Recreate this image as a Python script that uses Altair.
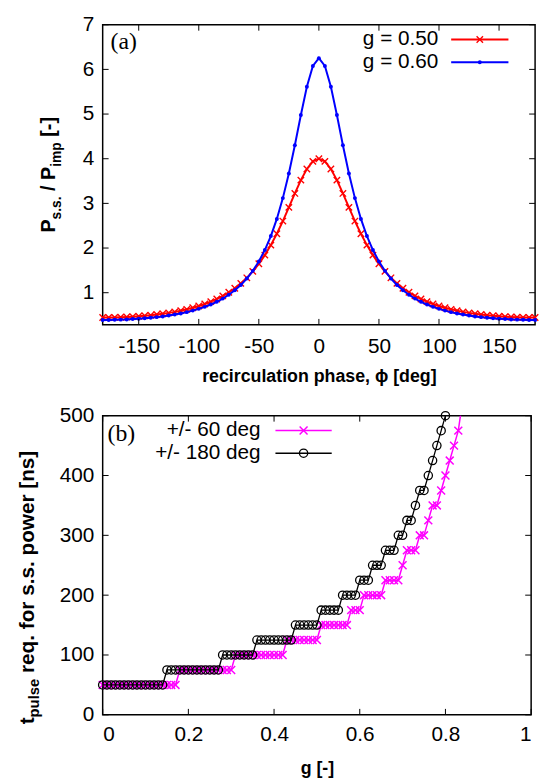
import altair as alt
import pandas as pd

# ---------------- data: panel (a) ----------------
phase = [-180, -175, -170, -165, -160, -155, -150, -145, -140, -135, -130, -125,
         -120, -115, -110, -105, -100, -95, -90, -85, -80, -75, -70, -65,
         -60, -55, -50, -45, -40, -35, -30, -25, -20, -15, -10, -5, 0,
         5, 10, 15, 20, 25, 30, 35, 40, 45, 50, 55, 60,
         65, 70, 75, 80, 85, 90, 95, 100, 105, 110, 115, 120,
         125, 130, 135, 140, 145, 150, 155, 160, 165, 170, 175, 180]

p_g050 = [0.444, 0.445, 0.447, 0.451, 0.457, 0.464, 0.473, 0.483, 0.496, 0.511, 0.528, 0.548,
          0.571, 0.598, 0.628, 0.663, 0.702, 0.748, 0.800, 0.860, 0.929, 1.009, 1.101, 1.209,
          1.333, 1.478, 1.647, 1.842, 2.066, 2.321, 2.604, 2.910, 3.223, 3.520, 3.771, 3.940, 4.000,
          3.940, 3.771, 3.520, 3.223, 2.910, 2.604, 2.321, 2.066, 1.842, 1.647, 1.478, 1.333,
          1.209, 1.101, 1.009, 0.929, 0.860, 0.800, 0.748, 0.702, 0.663, 0.628, 0.598, 0.571,
          0.548, 0.528, 0.511, 0.496, 0.483, 0.473, 0.464, 0.457, 0.451, 0.447, 0.445, 0.444]

p_g060 = [0.391, 0.391, 0.393, 0.397, 0.402, 0.409, 0.417, 0.427, 0.439, 0.453, 0.469, 0.488,
          0.510, 0.536, 0.565, 0.599, 0.638, 0.683, 0.735, 0.797, 0.868, 0.953, 1.053, 1.173,
          1.316, 1.489, 1.699, 1.955, 2.269, 2.652, 3.118, 3.671, 4.303, 4.978, 5.611, 6.076, 6.250,
          6.076, 5.611, 4.978, 4.303, 3.671, 3.118, 2.652, 2.269, 1.955, 1.699, 1.489, 1.316,
          1.173, 1.053, 0.953, 0.868, 0.797, 0.735, 0.683, 0.638, 0.599, 0.565, 0.536, 0.510,
          0.488, 0.469, 0.453, 0.439, 0.427, 0.417, 0.409, 0.402, 0.397, 0.393, 0.391, 0.391]

# ---------------- data: panel (b) ----------------
g_180 = [0.00, 0.01, 0.02, 0.03, 0.04, 0.05, 0.06, 0.07, 0.08, 0.09,
         0.10, 0.11, 0.12, 0.13, 0.14, 0.15, 0.16, 0.17, 0.18, 0.19,
         0.20, 0.21, 0.22, 0.23, 0.24, 0.25, 0.26, 0.27, 0.28, 0.29,
         0.30, 0.31, 0.32, 0.33, 0.34, 0.35, 0.36, 0.37, 0.38, 0.39,
         0.40, 0.41, 0.42, 0.43, 0.44, 0.45, 0.46, 0.47, 0.48, 0.49,
         0.50, 0.51, 0.52, 0.53, 0.54, 0.55, 0.56, 0.57, 0.58, 0.59,
         0.60, 0.61, 0.62, 0.63, 0.64, 0.65, 0.66, 0.67, 0.68, 0.69,
         0.70, 0.71, 0.72, 0.73, 0.74, 0.75, 0.76, 0.77, 0.78, 0.79,
         0.80]
t_180 = [50, 50, 50, 50, 50, 50, 50, 50, 50, 50,
         50, 50, 50, 50, 50, 75, 75, 75, 75, 75,
         75, 75, 75, 75, 75, 75, 75, 75, 100, 100,
         100, 100, 100, 100, 100, 100, 125, 125, 125, 125,
         125, 125, 125, 125, 125, 150, 150, 150, 150, 150,
         150, 175, 175, 175, 175, 175, 200, 200, 200, 200,
         225, 225, 225, 250, 250, 250, 275, 275, 275, 300,
         300, 325, 325, 350, 375, 375, 400, 425, 450, 475,
         500]

g_60 = [0.00, 0.01, 0.02, 0.03, 0.04, 0.05, 0.06, 0.07, 0.08, 0.09,
        0.10, 0.11, 0.12, 0.13, 0.14, 0.15, 0.16, 0.17, 0.18, 0.19,
        0.20, 0.21, 0.22, 0.23, 0.24, 0.25, 0.26, 0.27, 0.28, 0.29,
        0.30, 0.31, 0.32, 0.33, 0.34, 0.35, 0.36, 0.37, 0.38, 0.39,
        0.40, 0.41, 0.42, 0.43, 0.44, 0.45, 0.46, 0.47, 0.48, 0.49,
        0.50, 0.51, 0.52, 0.53, 0.54, 0.55, 0.56, 0.57, 0.58, 0.59,
        0.60, 0.61, 0.62, 0.63, 0.64, 0.65, 0.66, 0.67, 0.68, 0.69,
        0.70, 0.71, 0.72, 0.73, 0.74, 0.75, 0.76, 0.77, 0.78, 0.79,
        0.80, 0.81, 0.82, 0.83, 0.84]
t_60 = [50, 50, 50, 50, 50, 50, 50, 50, 50, 50,
        50, 50, 50, 50, 50, 50, 50, 50, 75, 75,
        75, 75, 75, 75, 75, 75, 75, 75, 75, 75,
        75, 100, 100, 100, 100, 100, 100, 100, 100, 100,
        100, 100, 100, 125, 125, 125, 125, 125, 125, 125,
        125, 150, 150, 150, 150, 150, 150, 150, 175, 175,
        175, 200, 200, 200, 200, 200, 225, 225, 225, 225,
        250, 275, 275, 275, 300, 300, 325, 350, 350, 375,
        400, 425, 450, 475, 525]

top_x_ticks = [-150, -100, -50, 0, 50, 100, 150]
top_y_ticks = [1, 2, 3, 4, 5, 6, 7]
bot_x_ticks = [0, 0.2, 0.4, 0.6, 0.8, 1.0]
bot_y_ticks = [0, 100, 200, 300, 400, 500]

legend_top = ["g = 0.50", "g = 0.60"]
legend_bot = ["+/- 60 deg", "+/- 180 deg"]

# ---------------- styling ----------------
FONT = "Liberation Sans"
XPATH = "M-1,-1L1,1M-1,1L1,-1"
RED, BLUE, PINK, BLACK = "#ff0000", "#0000ff", "#ff00ff", "#000000"
W1, H1 = 438, 304
W2, H2 = 434, 303
TICK = 6

# Arial/Liberation Sans Bold advance widths (em) for composing sub-scripted titles
CW = {' ': .278, '.': .278, '/': .278, '[': .333, ']': .333, '-': .333, 'P': .667,
      's': .556, 'i': .278, 'm': .889, 'p': .611, 't': .333, 'u': .611, 'l': .278,
      'e': .556, 'r': .389, 'q': .611, 'f': .333, 'o': .611, 'w': .778, 'n': .611}


def one():
    return pd.DataFrame({"k": [0]})


def composed_title(pieces, x, center_y):
    total = sum(sum(CW[c] for c in txt) * fs for txt, fs, _ in pieces)
    y0 = center_y + total / 2
    layers = []
    off = 0.0
    for txt, fs, sub in pieces:
        lead = len(txt) - len(txt.lstrip(" "))
        off += lead * CW[' '] * fs
        body = txt.lstrip(" ")
        layers.append(
            alt.Chart(one()).mark_text(
                angle=270, align="left", baseline="alphabetic", font=FONT,
                fontWeight="bold", fontSize=fs, dx=off, dy=sub, color="black"
            ).encode(x=alt.value(x), y=alt.value(y0), text=alt.value(body))
        )
        off += sum(CW[c] for c in body) * fs
    return layers


def inward_ticks(xdf, xenc, ydf, yenc, W, H):
    return [
        alt.Chart(xdf).mark_rule(color="black", strokeWidth=1).encode(x=xenc, y=alt.value(H), y2=alt.value(H - TICK)),
        alt.Chart(xdf).mark_rule(color="black", strokeWidth=1).encode(x=xenc, y=alt.value(0), y2=alt.value(TICK)),
        alt.Chart(ydf).mark_rule(color="black", strokeWidth=1).encode(y=yenc, x=alt.value(0), x2=alt.value(TICK)),
        alt.Chart(ydf).mark_rule(color="black", strokeWidth=1).encode(y=yenc, x=alt.value(W - TICK), x2=alt.value(W)),
    ]


def legend_row(label, y, x_text, x_line0, x_line1, color, line_w, point_kw):
    return [
        alt.Chart(one()).mark_text(align="right", baseline="middle", font=FONT, fontSize=21, color="black")
        .encode(x=alt.value(x_text), y=alt.value(y), text=alt.value(label)),
        alt.Chart(one()).mark_rule(color=color, strokeWidth=line_w)
        .encode(x=alt.value(x_line0), x2=alt.value(x_line1), y=alt.value(y)),
        alt.Chart(one()).mark_point(color=color, opacity=1, **point_kw)
        .encode(x=alt.value((x_line0 + x_line1) / 2), y=alt.value(y)),
    ]


# ---------------- panel (a) ----------------
df050 = pd.DataFrame({"phase": phase, "P": p_g050})
df060 = pd.DataFrame({"phase": phase, "P": p_g060})

xa = alt.X("phase:Q", scale=alt.Scale(domain=[-180, 180], nice=False, zero=False),
           axis=alt.Axis(values=top_x_ticks, ticks=False, domain=False, grid=False,
                         labelExpr="'' + datum.value", labelFontSize=21, labelPadding=11,
                         title="recirculation phase, ϕ [deg]", titleFontSize=18, titlePadding=11))
ya = alt.Y("P:Q", scale=alt.Scale(domain=[0.28, 7], nice=False, zero=False),
           axis=alt.Axis(values=top_y_ticks, ticks=False, domain=False, grid=False,
                         labelExpr="'' + datum.value", labelFontSize=21, labelPadding=9, title=None))

pt_red = dict(shape=XPATH, size=42, strokeWidth=1.4, filled=False)
pt_blue = dict(shape="circle", size=16, filled=True)

top_layers = [
    alt.Chart(df050).mark_line(color=RED, strokeWidth=2).encode(x=xa, y=ya),
    alt.Chart(df050).mark_point(color=RED, opacity=1, **pt_red).encode(x=xa, y=ya),
    alt.Chart(df060).mark_line(color=BLUE, strokeWidth=2).encode(x=xa, y=ya),
    alt.Chart(df060).mark_point(color=BLUE, opacity=1, **pt_blue).encode(x=xa, y=ya),
]
top_layers += inward_ticks(pd.DataFrame({"phase": top_x_ticks}), xa,
                           pd.DataFrame({"P": top_y_ticks}), ya, W1, H1)
top_layers += legend_row(legend_top[0], 15, 340, 353, 411, RED, 2, pt_red)
top_layers += legend_row(legend_top[1], 38, 340, 353, 411, BLUE, 2, pt_blue)
top_layers.append(
    alt.Chart(one()).mark_text(align="left", baseline="middle", font="Liberation Serif", fontSize=24, color="black")
    .encode(x=alt.value(8), y=alt.value(18), text=alt.value("(a)"))
)
top_layers += composed_title([("P", 20, 0), ("s.s.", 14, 6), (" / P", 20, 0), ("imp", 14, 6), (" [-]", 20, 0)],
                             -48, 152)

top = alt.layer(*top_layers).properties(width=W1, height=H1)

# ---------------- panel (b) ----------------
df60 = pd.DataFrame({"g": g_60, "t": t_60})
df180 = pd.DataFrame({"g": g_180, "t": t_180})

xb = alt.X("g:Q", scale=alt.Scale(domain=[0, 1], nice=False, zero=False),
           axis=alt.Axis(values=bot_x_ticks, ticks=False, domain=False, grid=False,
                         format=".1~f", labelFontSize=21, labelPadding=9,
                         title="g [-]", titleFontSize=18, titlePadding=15))
yb = alt.Y("t:Q", scale=alt.Scale(domain=[0, 500], nice=False, zero=False),
           axis=alt.Axis(values=bot_y_ticks, ticks=False, domain=False, grid=False,
                         labelFontSize=21, labelPadding=9, title=None))

pt_pink = dict(shape=XPATH, size=64, strokeWidth=1.5, filled=False)
pt_black = dict(shape="circle", size=70, strokeWidth=1.3, filled=False)

bot_layers = [
    alt.Chart(df60).mark_line(color=PINK, strokeWidth=1.5, clip=True).encode(x=xb, y=yb),
    alt.Chart(df60).transform_filter("datum.t <= 500").mark_point(color=PINK, opacity=1, **pt_pink).encode(x=xb, y=yb),
    alt.Chart(df180).mark_line(color=BLACK, strokeWidth=1.3).encode(x=xb, y=yb),
    alt.Chart(df180).mark_point(color=BLACK, opacity=1, **pt_black).encode(x=xb, y=yb),
]
bot_layers += inward_ticks(pd.DataFrame({"g": bot_x_ticks}), xb,
                           pd.DataFrame({"t": bot_y_ticks}), yb, W2, H2)
bot_layers += legend_row(legend_bot[0], 15, 160, 175, 232, PINK, 1.5, pt_pink)
bot_layers += legend_row(legend_bot[1], 38, 160, 175, 232, BLACK, 1.5, pt_black)
bot_layers.append(
    alt.Chart(one()).mark_text(align="left", baseline="middle", font="Liberation Serif", fontSize=24, color="black")
    .encode(x=alt.value(5), y=alt.value(19), text=alt.value("(b)"))
)
bot_layers += composed_title([("t", 21, 0), ("pulse", 15, 6), (" req. for s.s. power [ns]", 21, 0)],
                             -70, 174)

bottom = alt.layer(*bot_layers).properties(width=W2, height=H2)

chart = (
    alt.vconcat(top, bottom, spacing=18)
    .properties(padding={"left": 16, "top": 8, "right": 0, "bottom": 0}, background="white")
    .configure_view(stroke="black", strokeWidth=1.5)
    .configure_axis(labelFont=FONT, titleFont=FONT, labelColor="black", titleColor="black",
                    titleFontWeight="bold")
)

chart.save("out.html", embed_options={"renderer": "svg", "actions": False})
